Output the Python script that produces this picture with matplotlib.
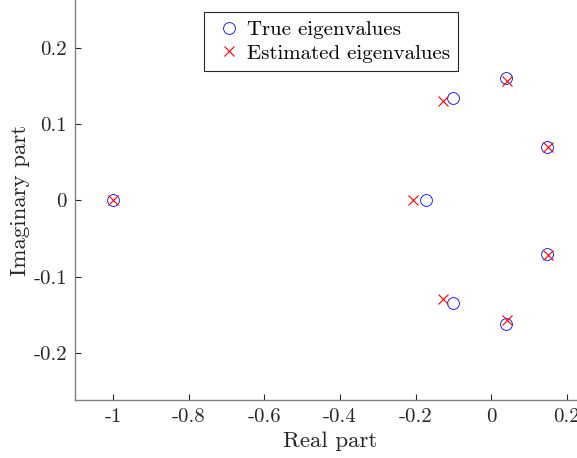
import matplotlib
matplotlib.use('Agg')
import matplotlib.pyplot as plt

# eigenvalues
true_re = [-1.0, -0.172, -0.102, -0.102, 0.040, 0.040, 0.149, 0.149]
true_im = [0.0, 0.0, 0.1345, -0.1345, 0.1607, -0.1617, 0.0699, -0.0708]
est_re = [-1.0, -0.207, -0.128, -0.128, 0.042, 0.042, 0.150, 0.150]
est_im = [0.0, 0.0, 0.1297, -0.129, 0.156, -0.157, 0.0695, -0.071]

xticks = [-1, -0.8, -0.6, -0.4, -0.2, 0, 0.2]
xtick_labels = ['-1', '-0.8', '-0.6', '-0.4', '-0.2', '0', '0.2']
yticks = [-0.2, -0.1, 0, 0.1, 0.2]
ytick_labels = ['-0.2', '-0.1', '0', '0.1', '0.2']

plt.rcParams['font.family'] = ['cmr10', 'DejaVu Serif']
plt.rcParams['axes.unicode_minus'] = False
plt.rcParams['mathtext.fontset'] = 'cm'

fig = plt.figure(figsize=(5.77, 4.58), dpi=100)
W, H = 577, 458
x0, x1 = -1.1, 0.25
px_per_x = 378.0
left_px = 75.3
right_px = left_px + (x1 - x0) * px_per_x
bottom_px = 399.7
ax = fig.add_axes([left_px / W, 1 - bottom_px / H, (right_px - left_px) / W, bottom_px / H])

ax.plot(true_re, true_im, 'o', mfc='none', mec='blue', ms=8.5, mew=0.6, label='True eigenvalues')
ax.plot(est_re, est_im, 'x', color='red', ms=6.5, mew=0.8, label='Estimated eigenvalues')

ax.set_xlim(x0, x1)
ax.set_ylim(-0.261, 0.2625)
ax.set_xticks(xticks)
ax.set_xticklabels(xtick_labels)
ax.set_yticks(yticks)
ax.set_yticklabels(ytick_labels)

for s in ['top', 'right']:
    ax.spines[s].set_visible(False)
for s in ['left', 'bottom']:
    ax.spines[s].set_color('#808080')
    ax.spines[s].set_linewidth(1.0)
ax.tick_params(direction='in', length=4, width=0.8, color='#262626', labelcolor='#262626',
               labelsize=15, pad=6)

fig.text(330 / W, 1 - 441 / H, 'Real part', ha='center', va='center', fontsize=16.5, color='#262626')
fig.text(20 / W, 1 - 200 / H, 'Imaginary part', ha='center', va='center', rotation=90,
         fontsize=16.5, color='#262626')

leg = ax.legend(loc='upper left', bbox_to_anchor=(204 / W, 1 - 12 / H),
                bbox_transform=fig.transFigure, fontsize=15, fancybox=False,
                framealpha=1, edgecolor='#262626', borderpad=0.4, handletextpad=0.05,
                labelspacing=0.25, handlelength=1.6, borderaxespad=0)
leg.get_frame().set_linewidth(0.8)

fig.savefig('out.png', dpi=100)
